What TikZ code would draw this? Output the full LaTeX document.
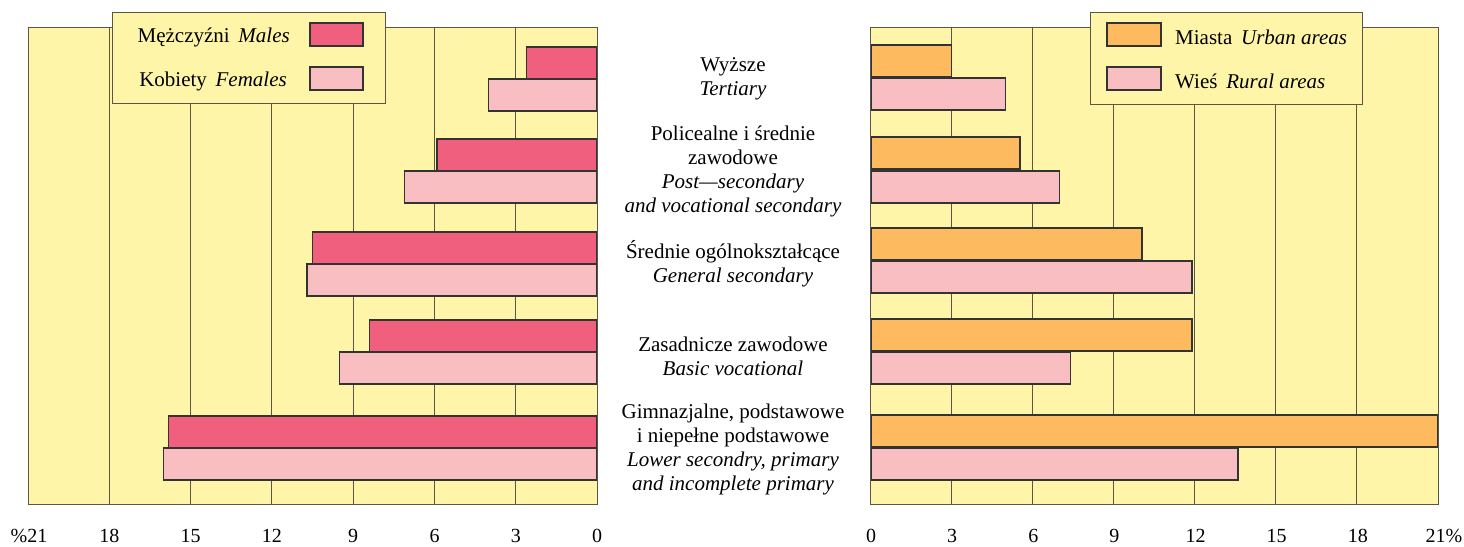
\documentclass[tikz,border=0pt]{standalone}
\usepackage{fontspec}
\IfFontExistsTF{Liberation Serif}
  {\setmainfont{Liberation Serif}}
  {\setmainfont{LiberationSerif-Regular.ttf}[ItalicFont=LiberationSerif-Italic.ttf,BoldFont=LiberationSerif-Bold.ttf]}
\definecolor{chartbg}{HTML}{FFF5A8}
\definecolor{malec}{HTML}{F05F7D}
\definecolor{femalec}{HTML}{F8BEC2}
\definecolor{urbanc}{HTML}{FDBA5E}
\definecolor{edgec}{HTML}{333333}
\definecolor{gridc}{HTML}{5A5646}
\begin{document}
\begin{tikzpicture}[x=1pt,y=-1pt,
  gridline/.style={draw=gridc,line width=0.8pt},
  barbox/.style={draw=edgec,line width=1.3pt},
  framebox/.style={draw=gridc,line width=1pt},
  legbox/.style={fill=chartbg,draw=gridc,line width=1pt},
  lbl/.style={font=\fontsize{21}{24}\selectfont,inner sep=0pt},
  axlbl/.style={font=\fontsize{20}{24}\selectfont,inner sep=0pt},
  cat/.style={font=\fontsize{21}{24}\selectfont,align=center,inner sep=0pt}]
\useasboundingbox (0,0) rectangle (1464,546);
% ---------- left chart ----------
\fill[chartbg] (28,27) rectangle (597,504);
\foreach \k in {1,...,6} {\draw[gridline] ({597-81.3*\k},27) -- ({597-81.3*\k},504);}
\foreach \v/\t in {2.6/47,5.9/139,10.5/232,8.4/320,15.8/416}
  {\draw[barbox,fill=malec] ({597-27.1*\v},\t) rectangle (597,\t+32);}
\foreach \v/\t in {4.0/79,7.1/171,10.7/264,9.5/352,16.0/448}
  {\draw[barbox,fill=femalec] ({597-27.1*\v},\t) rectangle (597,\t+32);}
\draw[framebox] (28,27) rectangle (597,504);
% legend left
\draw[legbox] (112,12) rectangle (385,103);
\draw[barbox,fill=malec] (310,23) rectangle (363,46);
\draw[barbox,fill=femalec] (310,67) rectangle (363,90);
\node[lbl,anchor=east] (lm) at (290,37) {Mężczyźni\, \textit{Males}};
\node[lbl,anchor=east] (lf) at (287,81) {Kobiety\, \textit{Females}};
% axis labels left
\node[axlbl,anchor=base] (la21) at (29,542) {\%21};
\foreach \n/\lab in {1/18,2/15,3/12,4/9,5/6,6/3,7/0}
  {\node[axlbl,anchor=base] (la\n) at ({28+81.3*\n},542) {\lab};}
% ---------- right chart ----------
\fill[chartbg] (870,27) rectangle (1438,504);
\foreach \k in {1,...,6} {\draw[gridline] ({870+81.14*\k},27) -- ({870+81.14*\k},504);}
\foreach \v/\t in {3.0/45,5.55/137,10.05/228,11.9/319,21/415}
  {\draw[barbox,fill=urbanc] (871,\t) rectangle ({870+27.05*\v},\t+32);}
\foreach \v/\t in {5.0/78,7.0/171,11.9/261,7.4/352,13.6/448}
  {\draw[barbox,fill=femalec] (871,\t) rectangle ({870+27.05*\v},\t+32);}
\draw[framebox] (870,27) rectangle (1438,504);
% legend right
\draw[legbox] (1090,12) rectangle (1362,104);
\draw[barbox,fill=urbanc] (1107,23) rectangle (1161,46);
\draw[barbox,fill=femalec] (1107,67) rectangle (1161,90);
\node[lbl,anchor=west] (lu) at (1175,37) {Miasta\, \textit{Urban areas}};
\node[lbl,anchor=west] (lr) at (1175,81) {Wieś\, \textit{Rural areas}};
% axis labels right
\foreach \n/\lab in {0/0,1/3,2/6,3/9,4/12,5/15,6/18}
  {\node[axlbl,anchor=base] (ra\n) at ({871+81.14*\n},542) {\lab};}
\node[axlbl,anchor=base] (ra7) at (1444,542) {21\%};
% ---------- category labels ----------
\node[cat] (c1) at (733,79) {Wyższe\\\textit{Tertiary}};
\node[cat] (c2) at (733,171) {Policealne i średnie\\zawodowe\\\textit{Post—secondary}\\\textit{and vocational secondary}};
\node[cat] (c3) at (733,264) {Średnie ogólnokształcące\\\textit{General secondary}};
\node[cat] (c4) at (733,356) {Zasadnicze zawodowe\\\textit{Basic vocational}};
\node[cat] (c5) at (733,449) {Gimnazjalne, podstawowe\\i niepełne podstawowe\\\textit{Lower secondry, primary}\\\textit{and incomplete primary}};
\end{tikzpicture}
\end{document}
